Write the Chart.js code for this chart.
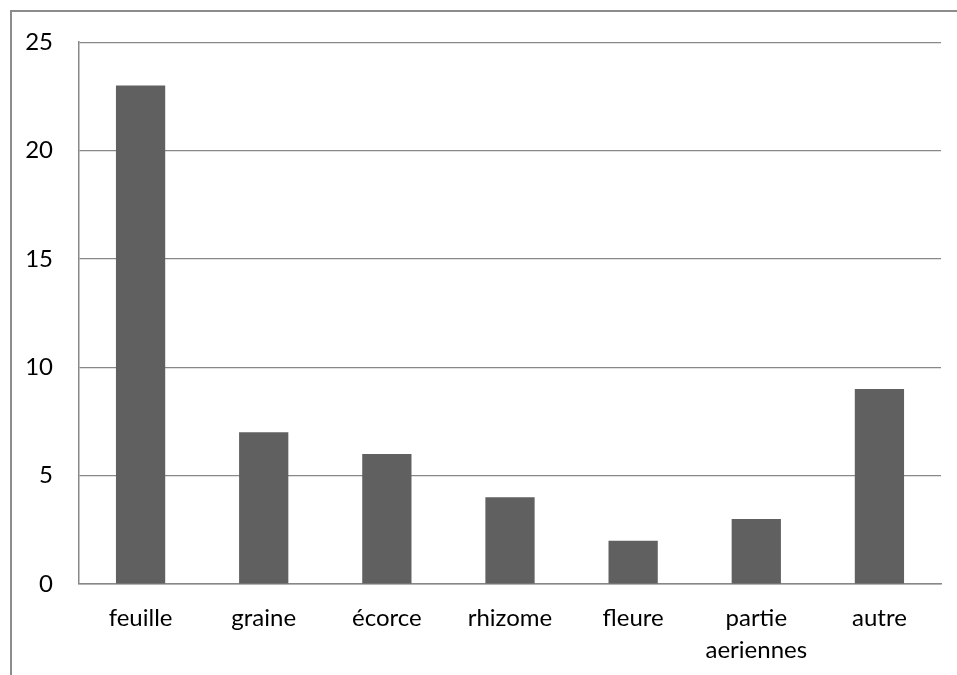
<!DOCTYPE html>
<html>
<head>
<meta charset="utf-8">
<script src="https://cdn.jsdelivr.net/npm/chart.js@4/dist/chart.umd.min.js"></script>
<style>
  html, body { margin: 0; padding: 0; background: #fff; }
  #frame {
    position: absolute; left: 10px; top: 10px; width: 1000px; height: 700px;
    border-left: 2px solid #8c8c8c; border-top: 2px solid #8c8c8c;
  }
  #wrap { position: absolute; left: 0; top: 0; width: 957px; height: 675px; }
</style>
</head>
<body>
<div id="frame"></div>
<div id="wrap"><canvas id="chart" width="957" height="675"></canvas></div>
<script>
const categories = ['feuille', 'graine', 'écorce', 'rhizome', 'fleure', ['partie', 'aeriennes'], 'autre'];
const counts = [23, 7, 6, 4, 2, 3, 9];
const yTicks = [0, 5, 10, 15, 20, 25];

const font = { family: 'Lato, "Liberation Sans", sans-serif', size: 24, lineHeight: 1.35 };

const ctx = document.getElementById('chart').getContext('2d');
new Chart(ctx, {
    type: 'bar',
    data: {
        labels: categories,
        datasets: [{
            data: counts,
            backgroundColor: '#606060',
            borderWidth: 0,
            barPercentage: 0.4,
            categoryPercentage: 1
        }]
    },
    options: {
        responsive: false,
        animation: false,
        layout: { autoPadding: false, padding: { left: 0, top: 41, right: 16, bottom: 0 } },
        plugins: { legend: { display: false }, tooltip: { enabled: false } },
        scales: {
            x: {
                grid: { display: false, drawTicks: false },
                border: { display: true, color: '#888888', width: 1.5 },
                ticks: { color: '#000', font: font, padding: 18, maxRotation: 0, autoSkip: false },
                afterFit: function (scale) { scale.height = 91; }
            },
            y: {
                min: 0,
                max: 25,
                afterBuildTicks: function (scale) {
                    scale.ticks = yTicks.map(v => ({ value: v }));
                },
                grid: { color: '#888888', lineWidth: 1.2, drawTicks: false },
                border: { display: true, color: '#888888', width: 1.5 },
                ticks: { color: '#000', font: font, padding: 26 },
                afterFit: function (scale) { scale.width = 79; }
            }
        }
    }
});
</script>
</body>
</html>
